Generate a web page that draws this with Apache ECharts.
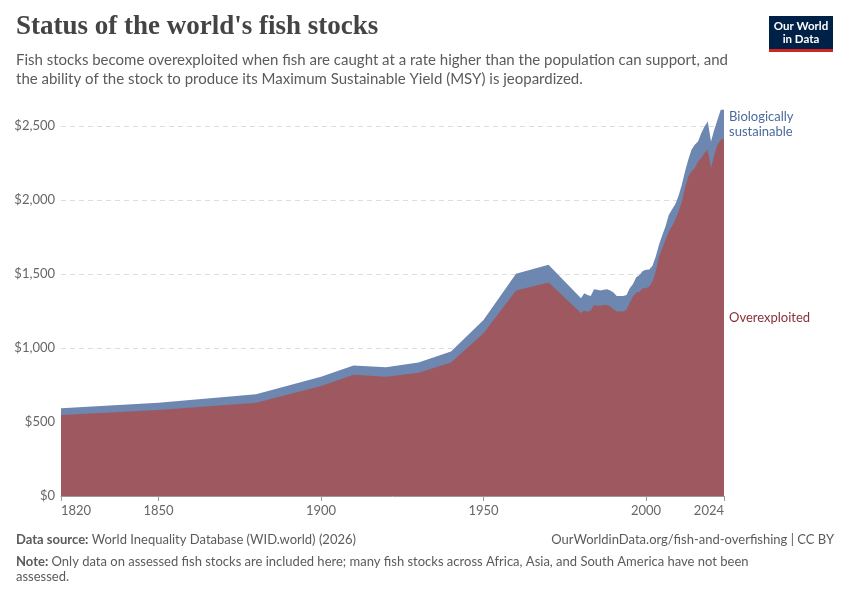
<!DOCTYPE html>
<html>
<head>
<meta charset="utf-8">
<script src="https://cdn.jsdelivr.net/npm/echarts@6/dist/echarts.min.js"></script>
<style>
  html, body { margin: 0; padding: 0; background: #fff; }
  #chart { width: 850px; height: 600px; }
</style>
</head>
<body>
<div id="chart"></div>
<script>
// years with data (sparse before 1980, yearly after)
const years = [1820, 1850, 1880, 1900, 1910, 1920, 1930, 1940, 1950, 1960, 1970,
  1980, 1981, 1982, 1983, 1984, 1985, 1986, 1987, 1988, 1989,
  1990, 1991, 1992, 1993, 1994, 1995, 1996, 1997, 1998, 1999,
  2000, 2001, 2002, 2003, 2004, 2005, 2006, 2007, 2008, 2009,
  2010, 2011, 2012, 2013, 2014, 2015, 2016, 2017, 2018, 2019,
  2020, 2021, 2022, 2023, 2024];

const overexploited = [547, 581, 630, 743, 818, 806, 833, 901, 1099, 1387, 1441,
  1235, 1252, 1245, 1252, 1290, 1284, 1284, 1290, 1290, 1279,
  1261, 1246, 1246, 1246, 1257, 1306, 1347, 1374, 1380, 1403,
  1403, 1414, 1448, 1516, 1617, 1673, 1730, 1786, 1820, 1865,
  1920, 1985, 2079, 2158, 2191, 2214, 2259, 2282, 2316, 2338,
  2214, 2304, 2372, 2405, 2410];

const sustainable = [45, 49, 57, 63, 63, 63, 68, 74, 90, 113, 120,
  100, 117, 113, 99, 106, 108, 103, 102, 106, 108,
  113, 105, 105, 105, 101, 97, 85, 103, 113, 117,
  124, 116, 107, 101, 79, 87, 90, 112, 115, 105,
  105, 115, 112, 112, 147, 158, 135, 168, 179, 191,
  180, 169, 169, 203, 198];

const xTicks = [1820, 1850, 1900, 1950, 2000, 2024];
const yTicks = [0, 500, 1000, 1500, 2000, 2500];

const redFill = "#9e5960";
const blueFill = "#6d87b1";

// stacking on a value x axis misbehaves, so build the stacked top by hand
const totals = overexploited.map((v, i) => v + sustainable[i]);

const chart = echarts.init(document.getElementById("chart"));

const fmtMoney = (v) => "$" + v.toLocaleString("en-US");

const option = {
  animation: false,
  textStyle: { fontFamily: "Lato, 'Noto Sans', sans-serif" },
  grid: { left: 61, right: 126, top: 108, bottom: 104 },
  xAxis: {
    type: "value",
    min: 1820,
    max: 2024,
    axisLine: { show: true, lineStyle: { color: "#999", width: 1 } },
    axisTick: { show: true, customValues: xTicks, length: 5, lineStyle: { color: "#999" } },
    axisLabel: {
      customValues: xTicks,
      color: "#666",
      fontSize: 13,
      margin: 8,
      alignMinLabel: "left",
      alignMaxLabel: "right",
      formatter: (v) => String(v),
    },
    splitLine: { show: false },
  },
  yAxis: {
    type: "value",
    min: 0,
    max: 2620,
    axisLine: { show: false },
    axisTick: { show: false, customValues: yTicks },
    axisLabel: {
      customValues: yTicks,
      color: "#666",
      fontSize: 13,
      margin: 6,
      formatter: fmtMoney,
    },
    splitLine: { show: true, lineStyle: { color: "#ddd", type: [5, 4] } },
  },
  series: [
    {
      name: "Biologically sustainable",
      type: "line",
      symbol: "none",
      lineStyle: { width: 0 },
      areaStyle: { color: blueFill, opacity: 1 },
      data: years.map((y, i) => [y, totals[i]]),
      z: 3,
    },
    {
      name: "Overexploited",
      type: "line",
      symbol: "none",
      lineStyle: { width: 0 },
      areaStyle: { color: redFill, opacity: 1 },
      data: years.map((y, i) => [y, overexploited[i]]),
      z: 4,
    },
  ],
};

chart.setOption(option);

// place the end labels at the middle of each band in the last year
const last = years.length - 1;
const lastYear = years[last];
const redMid = chart.convertToPixel({ gridIndex: 0 }, [lastYear, overexploited[last] / 2]);
const blueMid = chart.convertToPixel({ gridIndex: 0 },
  [lastYear, overexploited[last] + sustainable[last] / 2]);

const noteFont = "13px Lato, sans-serif";
const boldRich = { b: { fontWeight: "bold", fontSize: 13, fontFamily: "Lato, sans-serif", fill: "#5b5b5b" } };

chart.setOption({
  graphic: [
    {
      type: "text", left: 16, top: 14,
      style: {
        text: "Status of the world's fish stocks",
        font: "bold 27px 'Liberation Serif', serif",
        fill: "#444",
      },
    },
    {
      type: "text", left: 16, top: 51,
      style: {
        text: "Fish stocks become overexploited when fish are caught at a rate higher than the population can support, and\nthe ability of the stock to produce its Maximum Sustainable Yield (MSY) is jeopardized.",
        font: "15px Lato, sans-serif",
        fill: "#5b5b5b",
        lineHeight: 19,
      },
    },
    // logo
    { type: "rect", shape: { x: 769, y: 16, width: 64, height: 34 }, style: { fill: "#002147" } },
    { type: "rect", shape: { x: 769, y: 49, width: 64, height: 3 }, style: { fill: "#ce261e" } },
    {
      type: "text", x: 801, y: 33,
      style: {
        text: "Our World\nin Data",
        font: "bold 11.5px Lato, sans-serif",
        fill: "#fff",
        align: "center",
        verticalAlign: "middle",
        lineHeight: 13,
      },
    },
    // series labels
    {
      type: "text", x: blueMid[0] + 5, y: blueMid[1],
      style: {
        text: "Biologically\nsustainable",
        font: "13px Lato, sans-serif",
        fill: "#4c6a9c",
        verticalAlign: "middle",
        lineHeight: 15,
      },
    },
    {
      type: "text", x: redMid[0] + 5, y: redMid[1],
      style: {
        text: "Overexploited",
        font: "13px Lato, sans-serif",
        fill: "#883039",
        verticalAlign: "middle",
      },
    },
    // footer
    {
      type: "text", left: 16, top: 533,
      style: {
        text: "{b|Data source:} World Inequality Database (WID.world) (2026)",
        font: noteFont,
        fill: "#5b5b5b",
        rich: boldRich,
      },
    },
    {
      type: "text", right: 16, top: 533,
      style: {
        text: "OurWorldinData.org/fish-and-overfishing | CC BY",
        font: noteFont,
        fill: "#5b5b5b",
      },
    },
    {
      type: "text", left: 16, top: 554,
      style: {
        text: "{b|Note:} Only data on assessed fish stocks are included here; many fish stocks across Africa, Asia, and South America have not been\nassessed.",
        font: noteFont,
        fill: "#5b5b5b",
        lineHeight: 15,
        rich: boldRich,
      },
    },
  ],
});

window.addEventListener("resize", chart.resize);
</script>
</body>
</html>
